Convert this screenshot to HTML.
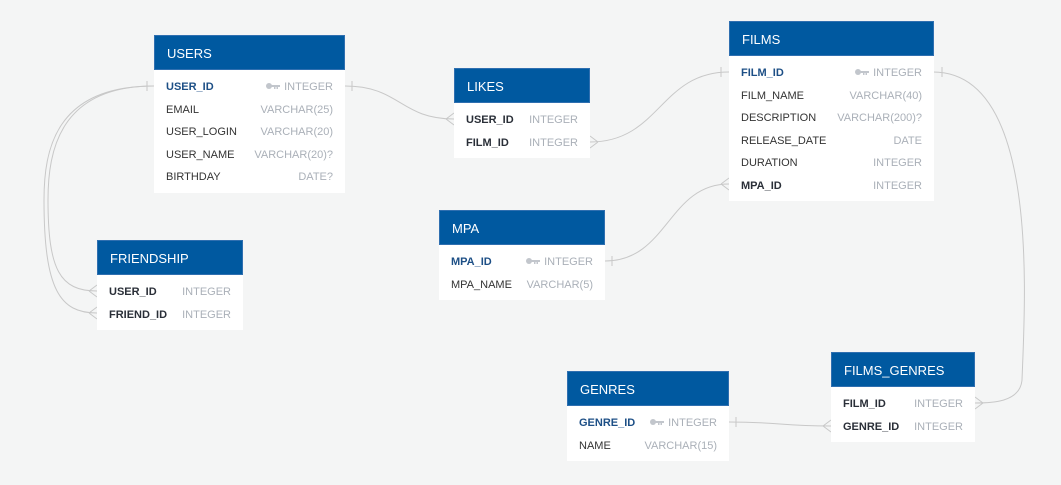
<!DOCTYPE html>
<html><head><meta charset="utf-8"><style>
body{margin:0;width:1061px;height:485px;background:#f4f5f5;font-family:"Liberation Sans",Arial,sans-serif;position:relative;overflow:hidden}
.t{position:absolute;background:#fff}
.h{background:#0059a0;color:#fff;font-size:13px;height:35px;line-height:35px;padding-left:12px;border:1px solid #2f6fb0;box-sizing:border-box}
.b{padding:6px 12px 4px 12px}
.r{height:22.5px;line-height:22.5px;font-size:11px;display:flex;justify-content:space-between;color:#333}
.r span:last-child{color:#aab0b8}
.pk span:first-child{color:#1d4f86;font-weight:bold}
.fk span:first-child{font-weight:bold;color:#2a2f38}
.k{display:inline-block;width:14px;height:7px;margin-right:4px;vertical-align:0;position:static}
svg.bg{position:absolute;left:0;top:0}
</style></head><body>
<svg class="bg" width="1061" height="485" fill="none" stroke="#c8c8c8" stroke-width="1">
<path d="M345 86 C400 86,400 119,454 119"/><path d="M352 81V91"/><path d="M446 119L454 113M446 119L454 125"/>
<path d="M590 142 C660 142,660 72,729 72"/><path d="M721 67V77"/><path d="M598 142L590 136M598 142L590 148"/>
<path d="M605 261 C668 261,668 184,729 184"/><path d="M612 256V266"/><path d="M721 184L729 178M721 184L729 190"/>
<path d="M933 72 C1040 72,1025 300,1022 380 C1020 403,990 403,975 403"/><path d="M942 67V77"/><path d="M983 403L975 397M983 403L975 409"/>
<path d="M729 422 C780 422,780 426,831 426"/><path d="M736 417V427"/><path d="M823 426L831 420M823 426L831 432"/>
<path d="M154 86 C60 86,48 150,48 200 C48 270,60 291,97 291"/>
<path d="M154 86 C55 86,44 150,44 200 C44 290,60 313,97 313"/>
<path d="M147 81V91"/><path d="M89 291L97 285M89 291L97 297"/><path d="M89 313L97 307M89 313L97 319"/>
</svg>

<div class="t" style="left:154px;top:35px;width:191px"><div class="h">USERS</div><div class="b">
<div class="r pk"><span>USER_ID</span><span><svg class="k" viewBox="0 0 14 7"><circle cx="3" cy="3" r="3" fill="#c2c6cc"/><path d="M5 2h9v2h-2v2h-1.5V4h-1v2H8V4H5z" fill="#c2c6cc"/></svg>INTEGER</span></div>
<div class="r"><span>EMAIL</span><span>VARCHAR(25)</span></div>
<div class="r"><span>USER_LOGIN</span><span>VARCHAR(20)</span></div>
<div class="r"><span>USER_NAME</span><span>VARCHAR(20)?</span></div>
<div class="r"><span>BIRTHDAY</span><span>DATE?</span></div></div></div>

<div class="t" style="left:454px;top:68px;width:136px"><div class="h">LIKES</div><div class="b">
<div class="r fk"><span>USER_ID</span><span>INTEGER</span></div>
<div class="r fk"><span>FILM_ID</span><span>INTEGER</span></div></div></div>

<div class="t" style="left:729px;top:21px;width:205px"><div class="h">FILMS</div><div class="b">
<div class="r pk"><span>FILM_ID</span><span><svg class="k" viewBox="0 0 14 7"><circle cx="3" cy="3" r="3" fill="#c2c6cc"/><path d="M5 2h9v2h-2v2h-1.5V4h-1v2H8V4H5z" fill="#c2c6cc"/></svg>INTEGER</span></div>
<div class="r"><span>FILM_NAME</span><span>VARCHAR(40)</span></div>
<div class="r"><span>DESCRIPTION</span><span>VARCHAR(200)?</span></div>
<div class="r"><span>RELEASE_DATE</span><span>DATE</span></div>
<div class="r"><span>DURATION</span><span>INTEGER</span></div>
<div class="r fk"><span>MPA_ID</span><span>INTEGER</span></div></div></div>

<div class="t" style="left:439px;top:210px;width:166px"><div class="h">MPA</div><div class="b">
<div class="r pk"><span>MPA_ID</span><span><svg class="k" viewBox="0 0 14 7"><circle cx="3" cy="3" r="3" fill="#c2c6cc"/><path d="M5 2h9v2h-2v2h-1.5V4h-1v2H8V4H5z" fill="#c2c6cc"/></svg>INTEGER</span></div>
<div class="r"><span>MPA_NAME</span><span>VARCHAR(5)</span></div></div></div>

<div class="t" style="left:97px;top:240px;width:146px"><div class="h">FRIENDSHIP</div><div class="b">
<div class="r fk"><span>USER_ID</span><span>INTEGER</span></div>
<div class="r fk"><span>FRIEND_ID</span><span>INTEGER</span></div></div></div>

<div class="t" style="left:567px;top:371px;width:162px"><div class="h">GENRES</div><div class="b">
<div class="r pk"><span>GENRE_ID</span><span><svg class="k" viewBox="0 0 14 7"><circle cx="3" cy="3" r="3" fill="#c2c6cc"/><path d="M5 2h9v2h-2v2h-1.5V4h-1v2H8V4H5z" fill="#c2c6cc"/></svg>INTEGER</span></div>
<div class="r"><span>NAME</span><span>VARCHAR(15)</span></div></div></div>

<div class="t" style="left:831px;top:352px;width:144px"><div class="h">FILMS_GENRES</div><div class="b">
<div class="r fk"><span>FILM_ID</span><span>INTEGER</span></div>
<div class="r fk"><span>GENRE_ID</span><span>INTEGER</span></div></div></div>
</body></html>
